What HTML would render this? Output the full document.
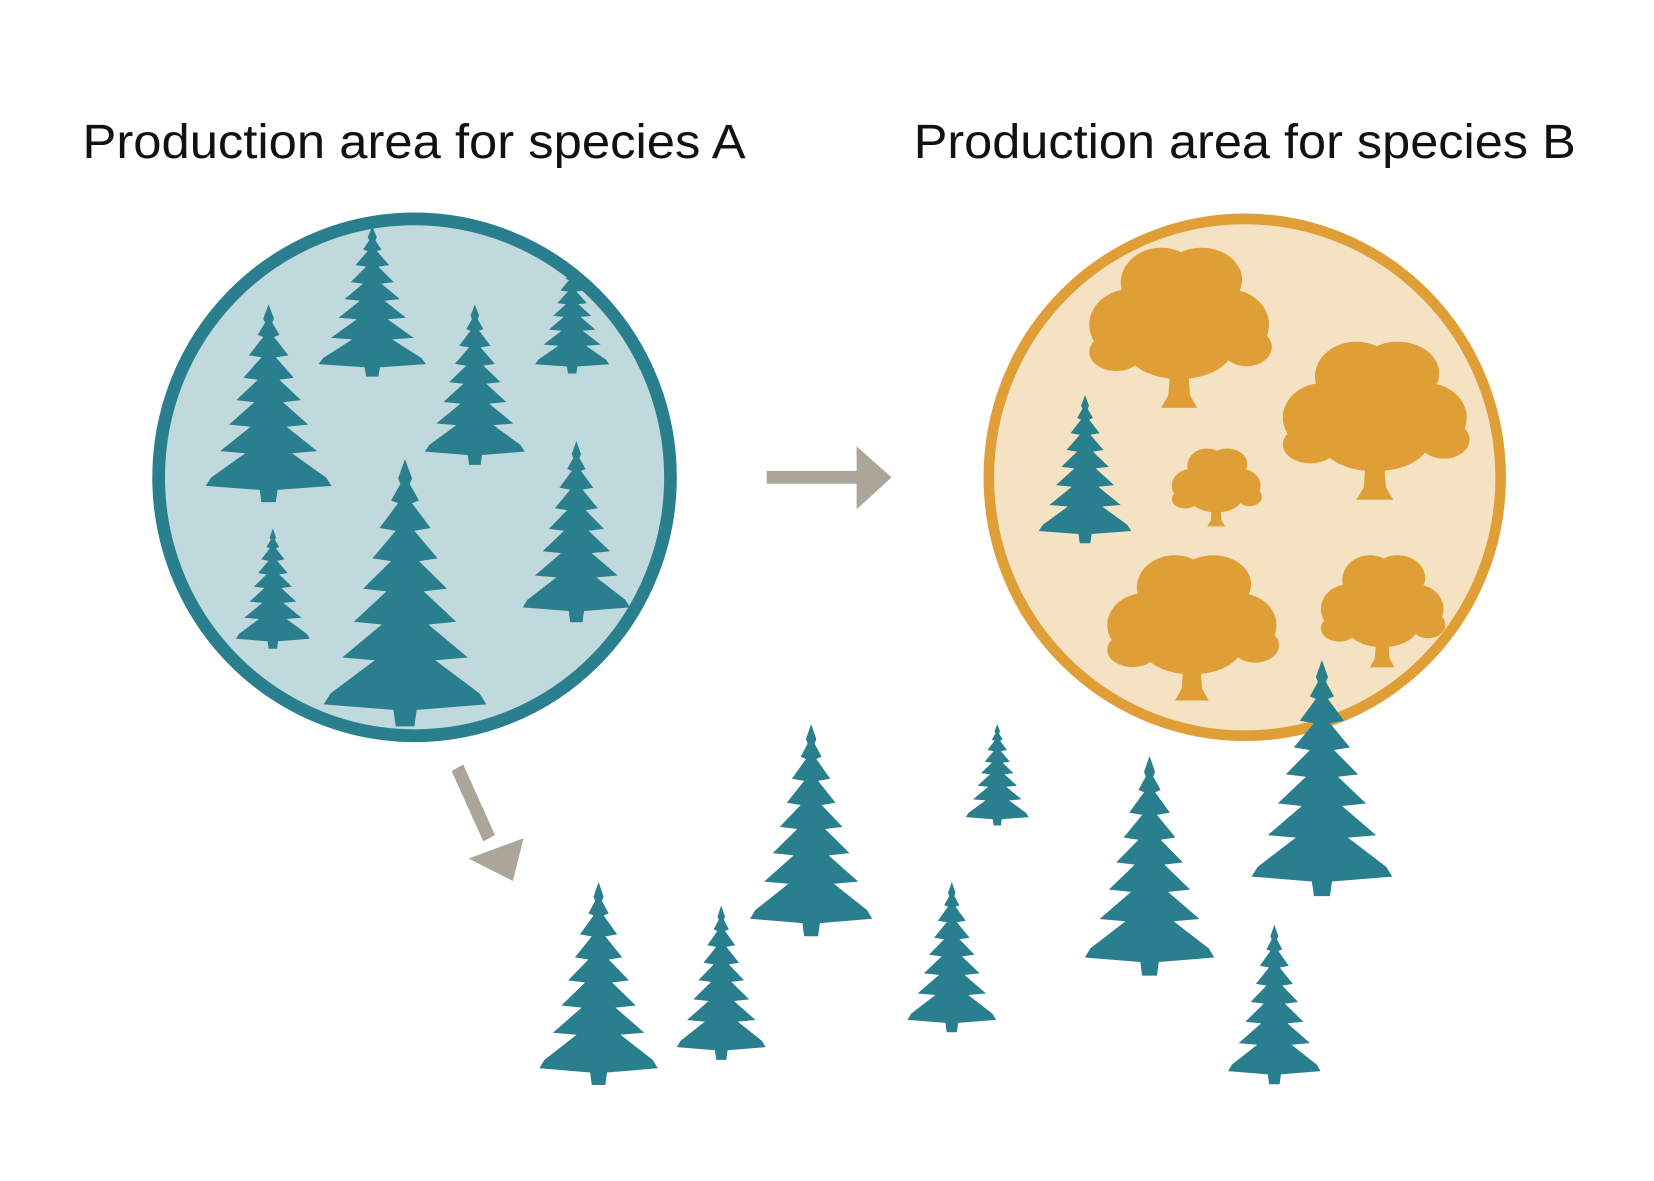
<!DOCTYPE html>
<html><head><meta charset="utf-8"><style>html,body{margin:0;padding:0;background:#fff}svg{display:block}</style></head>
<body>
<svg width="1654" height="1181" viewBox="0 0 1564 1106" preserveAspectRatio="none" xmlns="http://www.w3.org/2000/svg">
<defs>
<path id="sp" d="M0,0 L3,7 L2,9 L6,15 L3,16 L11,25 L4,26 L14,36 L6,37 L18,47 L8,48 L22,59 L10,60 L27,72 L13,73 L32,85 L35,89 L5,91 L4,97 L-4,97 L-5,91 L-35,89 L-32,85 L-13,73 L-27,72 L-10,60 L-22,59 L-8,48 L-18,47 L-6,37 L-14,36 L-4,26 L-11,25 L-3,16 L-6,15 L-2,9 L-3,7 Z" fill="#2a7f8e"/>
<g id="oak" fill="#df9f36">
<ellipse cx="0" cy="35" rx="60" ry="30"/>
<ellipse cx="-55" cy="48" rx="45" ry="22"/>
<ellipse cx="55" cy="48" rx="45" ry="22"/>
<ellipse cx="-20" cy="22" rx="45" ry="22"/>
<ellipse cx="25" cy="20" rx="45" ry="20"/>
<ellipse cx="-70" cy="65" rx="30" ry="12"/>
<ellipse cx="75" cy="62" rx="28" ry="12"/>
<ellipse cx="0" cy="62" rx="60" ry="20"/>
<path d="M-8,60 L8,60 L12,92 L20,100 L-20,100 L-12,92 Z"/>
</g>
<clipPath id="ca"><circle cx="392" cy="447" r="240"/></clipPath>
</defs>
<text x="78" y="148" font-family="Liberation Sans, sans-serif" font-size="45" fill="#111" textLength="627" lengthAdjust="spacingAndGlyphs">Production area for species A</text>
<text x="864" y="148" font-family="Liberation Sans, sans-serif" font-size="45" fill="#111" textLength="626" lengthAdjust="spacingAndGlyphs">Production area for species B</text>

<circle cx="392" cy="447" r="242" fill="#bfd9dc" stroke="#2a7f8e" stroke-width="12"/>
<g clip-path="url(#ca)">
<use href="#sp" transform="translate(352,212) scale(1.45,1.45)"/>
<use href="#sp" transform="translate(254,285) scale(1.7,1.91)"/>
<use href="#sp" transform="translate(449,285) scale(1.35,1.55)"/>
<use href="#sp" transform="translate(541,245) scale(1.0,1.08)"/>
<use href="#sp" transform="translate(258,495) scale(1.0,1.16)"/>
<use href="#sp" transform="translate(383,430) scale(2.2,2.58)"/>
<use href="#sp" transform="translate(545,413) scale(1.45,1.75)"/>
</g>

<circle cx="1177" cy="447" r="242" fill="#f5e2c2" stroke="#df9f36" stroke-width="10"/>
<use href="#sp" transform="translate(1026,370) scale(1.25,1.43)"/>
<use href="#oak" transform="translate(1115,232) scale(0.85,1.5)"/>
<use href="#oak" transform="translate(1300,320) scale(0.87,1.48)"/>
<use href="#oak" transform="translate(1150,420) scale(0.42,0.73)"/>
<use href="#oak" transform="translate(1127,520) scale(0.8,1.36)"/>
<use href="#oak" transform="translate(1307,520) scale(0.58,1.05)"/>

<use href="#sp" transform="translate(767,678) scale(1.65,2.05)"/>
<use href="#sp" transform="translate(943,678) scale(0.85,0.98)"/>
<use href="#sp" transform="translate(1250,618) scale(1.9,2.28)"/>
<use href="#sp" transform="translate(1087,708) scale(1.75,2.12)"/>
<use href="#sp" transform="translate(900,826) scale(1.2,1.45)"/>
<use href="#sp" transform="translate(566,826) scale(1.6,1.96)"/>
<use href="#sp" transform="translate(682,848) scale(1.2,1.49)"/>
<use href="#sp" transform="translate(1205,866) scale(1.25,1.54)"/>

<g fill="#aca59a">
<rect x="725" y="441" width="90" height="12"/>
<path d="M810,418 L843,447 L810,477 Z"/>
<path d="M427,722 L438,716 L468,782 L457,788 Z"/>
<path d="M443,804 L485,825 L495,785 Z"/>
</g>
</svg>
</body></html>
